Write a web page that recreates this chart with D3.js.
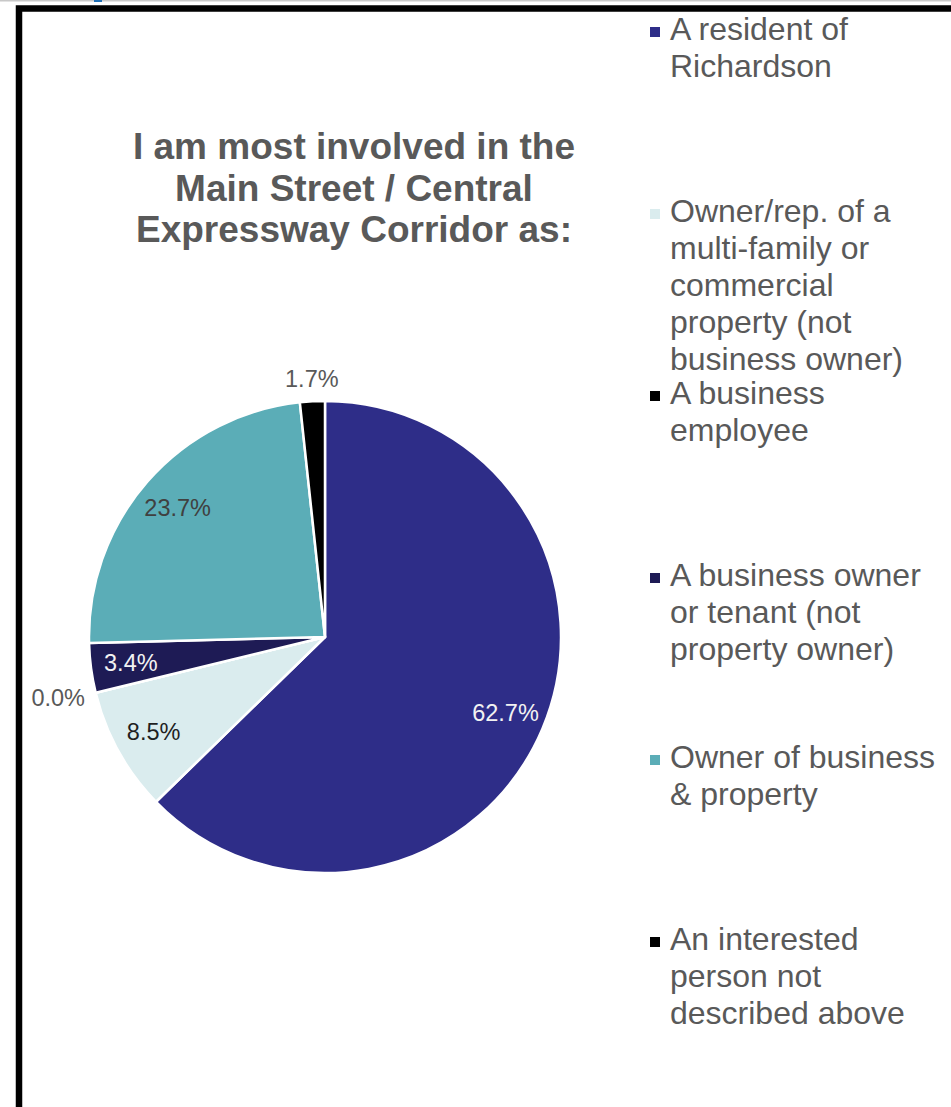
<!DOCTYPE html>
<html>
<head>
<meta charset="utf-8">
<script src="https://cdn.jsdelivr.net/npm/d3@7"></script>
<style>
  html, body { margin: 0; padding: 0; background: #fff; }
  svg { display: block; }
  text { font-family: "Liberation Sans", Arial, sans-serif; }
</style>
</head>
<body>
<svg id="chart" width="951" height="1107"></svg>
<script>
// Survey responses: share of respondents by type of involvement (percent)
const categories = [
  "A resident of Richardson",
  "Owner/rep. of a multi-family or commercial property (not business owner)",
  "A business employee",
  "A business owner or tenant (not property owner)",
  "Owner of business & property",
  "An interested person not described above"
];
const legendLines = [
  ["A resident of", "Richardson"],
  ["Owner/rep. of a", "multi-family or", "commercial", "property (not", "business owner)"],
  ["A business", "employee"],
  ["A business owner", "or tenant (not", "property owner)"],
  ["Owner of business", "& property"],
  ["An interested", "person not", "described above"]
];
const shares = [62.7, 8.5, 0.0, 3.4, 23.7, 1.7];
const sliceColors = ["#2E2D88", "#DAECEE", "#000000", "#1E1B55", "#5BADB7", "#000000"];
const titleLines = ["I am most involved in the", "Main Street / Central", "Expressway Corridor as:"];

const data = categories.map((c, i) => ({
  category: c, value: shares[i], color: sliceColors[i], lines: legendLines[i]
}));

const svg = d3.select("#chart");

// Thin rule along the top edge with a small blue tab
svg.append("rect").attr("x", 0).attr("y", 0).attr("width", 951).attr("height", 1.5).attr("fill", "#C8C8C8");
svg.append("rect").attr("x", 94).attr("y", 0).attr("width", 8).attr("height", 2).attr("fill", "#1F6FB5");

// Black frame around the chart area (runs past the right and bottom edges)
svg.append("rect")
  .attr("x", 19).attr("y", 8.5)
  .attr("width", 1000).attr("height", 1200)
  .attr("fill", "#fff")
  .attr("stroke", "#000").attr("stroke-width", 6.5);

// Title
const title = svg.append("text")
  .attr("text-anchor", "middle")
  .attr("font-weight", "bold")
  .attr("font-size", 37)
  .attr("fill", "#595959");
title.selectAll("tspan").data(titleLines).join("tspan")
  .attr("x", 354)
  .attr("y", (d, i) => 159 + i * 41.5)
  .text(d => d);

// Pie
const cx = 325, cy = 637, R = 236;
const pie = d3.pie().sort(null).value(d => d.value).startAngle(0).endAngle(2 * Math.PI);
const arc = d3.arc().innerRadius(0).outerRadius(R);
const arcs = pie(data);

const g = svg.append("g").attr("transform", `translate(${cx},${cy})`);
g.selectAll("path.slice").data(arcs).join("path")
  .attr("class", "slice")
  .attr("d", arc)
  .attr("fill", d => d.data.color)
  .attr("stroke", "#fff")
  .attr("stroke-width", 2.5)
  .attr("stroke-linejoin", "round");

// Data labels: inside for larger slices, just outside the rim for small ones
const fmt = d3.format(".1f");
const insideArc = d3.arc().innerRadius(R * 0.83).outerRadius(R * 0.83);
arcs.forEach(d => {
  const mid = (d.startAngle + d.endAngle) / 2;
  const sx = Math.sin(mid), sy = -Math.cos(mid);
  const t = g.append("text")
    .attr("font-size", 23.5)
    .text(fmt(d.data.value) + "%");
  if (d.data.value >= 3) {
    const [x, y] = insideArc.centroid(d);
    const l = d3.hsl(d.data.color).l;
    t.attr("x", x).attr("y", y)
      .attr("dy", "0.35em")
      .attr("text-anchor", "middle")
      .attr("fill", l < 0.4 ? "#F2F2F2" : (l < 0.7 ? "#404040" : "#1F1F1F"));
  } else {
    const r = R + 11;
    t.attr("x", sx * r).attr("y", sy * r)
      .attr("dy", (0.35 + sy * 0.5) + "em")
      .attr("text-anchor", sx < -0.5 ? "end" : (sx > 0.5 ? "start" : "middle"))
      .attr("fill", "#595959");
  }
});

// Legend
const legend = svg.append("g");
const entry = legend.selectAll("g").data(data).join("g")
  .attr("transform", (d, i) => `translate(650,${40 + i * 182})`);
entry.append("rect")
  .attr("x", 0).attr("y", -13)
  .attr("width", 10).attr("height", 10)
  .attr("fill", d => d.color);
entry.append("text")
  .attr("font-size", 32)
  .attr("fill", "#595959")
  .selectAll("tspan").data(d => d.lines).join("tspan")
  .attr("x", 20)
  .attr("y", (d, i) => i * 37)
  .text(d => d);
</script>
</body>
</html>
